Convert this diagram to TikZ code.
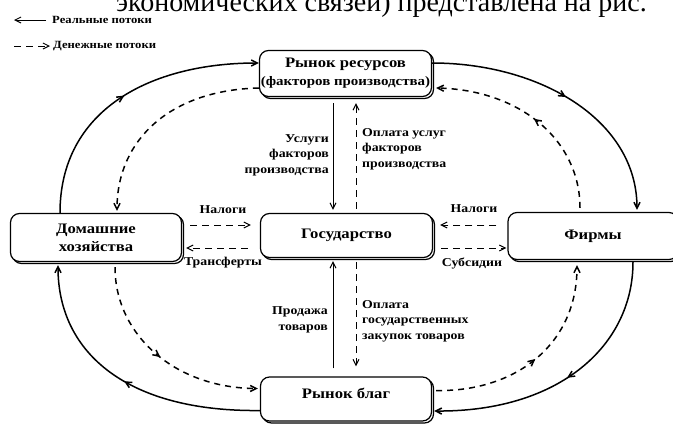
\documentclass[tikz,border=0pt]{standalone}
\usepackage{fontspec}
\setmainfont{Liberation Serif}
\newfontfamily\widefont[FakeStretch=1.15]{Liberation Serif}
\usetikzlibrary{arrows.meta,decorations.markings,shadows}
\begin{document}
\begin{tikzpicture}[x=1pt,y=-1pt,
  box/.style={draw, line width=1.2pt, rounded corners=9pt, fill=white, align=center,
    inner sep=0pt, copy shadow={shadow xshift=2pt, shadow yshift=-2pt},
    font=\widefont\bfseries\fontsize{14.5}{18}\selectfont},
  lbl/.style={inner sep=0pt, font=\widefont\bfseries\fontsize{12}{15.5}\selectfont},
  leg/.style={inner sep=0pt, font=\widefont\bfseries\fontsize{11}{14}\selectfont},
  tip/.style={-{Straight Barb[length=6pt,width=6pt]}},
  flow/.style={line width=1.5pt},
  money/.style={line width=1.5pt, dash pattern=on 6pt off 5pt},
  thinflow/.style={line width=1pt},
  thinmoney/.style={line width=1pt, dash pattern=on 7pt off 5pt},
  midarrow/.style={postaction={decorate}, decoration={markings,
    mark=at position #1 with {\arrow{Straight Barb[length=6pt,width=6pt]}}}},
  midarrow/.default=0.5
]
\useasboundingbox (0,0) rectangle (673,424);
\clip (0,0) rectangle (673,424);

% clipped running text at the top
\node[anchor=base east, inner sep=0pt, font=\fontsize{28}{30}\selectfont] (toptext) at (647,11.5)
  {экономических связей) представлена на рис.};

% legend
\coordinate (l1a) at (46,20);
\coordinate (l1b) at (14,20);
\draw[thinflow,tip] (l1a) -- (l1b);
\node[leg, anchor=west] (leg1) at (52,20) {Реальные потоки};
\coordinate (l2a) at (14,46);
\coordinate (l2b) at (50,46);
\draw[thinmoney,tip] (l2a) -- (l2b);
\node[leg, anchor=west] (leg2) at (53,46) {Денежные потоки};

% boxes
\node[box, minimum width=172pt, minimum height=46pt] (rr) at (345.5,73.5)
  {Рынок ресурсов\\{\fontsize{13}{17}\selectfont(факторов производства)}};
\node[box, minimum width=172pt, minimum height=44pt] (gov) at (346.5,235.5) {Государство};
\node[box, minimum width=171pt, minimum height=48pt] (hh) at (96,237.5) {Домашние\\хозяйства};
\node[box, minimum width=170pt, minimum height=47pt] (fi) at (593,236) {Фирмы};
\node[box, minimum width=171pt, minimum height=44pt] (rb) at (346,399) {};
\node[inner sep=0pt, font=\widefont\bfseries\fontsize{14.5}{18}\selectfont] (rbt) at (346,393) {Рынок благ};

% outer solid (real) flows
\draw[flow,tip,midarrow] ([xshift=-36pt]hh.north) .. controls (60,110) and (150,63) .. ([yshift=10.5pt]rr.west);
\draw[flow,tip,midarrow] ([yshift=10.5pt]rr.east) .. controls (540,63) and (637,120) .. ([xshift=44pt,yshift=2pt]fi.north);
\draw[flow,tip,midarrow] ([xshift=40pt,yshift=-2pt]fi.south) .. controls (633,345) and (560,412) .. ([xshift=2pt,yshift=-12pt]rb.east);
\draw[flow,tip,midarrow] ([yshift=-11.5pt]rb.west) .. controls (130,412) and (58,355) .. ([xshift=-38pt,yshift=-3pt]hh.south);

% outer dashed (money) flows
\draw[money,tip] ([yshift=-14.5pt]rr.west) .. controls (170,90) and (117,140) .. ([xshift=21pt,yshift=2pt]hh.north);
\draw[money,tip,midarrow] ([xshift=-13pt,yshift=4pt]fi.north) .. controls (580,140) and (520,90) .. ([xshift=4pt,yshift=-14.5pt]rr.east);
\draw[money,tip,midarrow] ([xshift=19pt,yshift=-5pt]hh.south) .. controls (115,335) and (175,388) .. ([xshift=-2pt,yshift=10.5pt]rb.west);
\draw[money,tip,midarrow] ([xshift=4pt,yshift=8.5pt]rb.east) .. controls (515,392) and (577,345) .. ([xshift=-16pt,yshift=-5pt]fi.south);

% vertical flows through the government
\coordinate (v1) at (333,0);
\coordinate (v2) at (356,0);
\draw[thinflow,tip,shorten <=6pt,shorten >=3pt] (rr.south -| v1) -- (gov.north -| v1);
\draw[thinmoney,tip,shorten <=4pt,shorten >=6pt] (gov.north -| v2) -- (rr.south -| v2);
\draw[thinflow,tip,shorten <=8pt,shorten >=3pt] (rb.north -| v1) -- (gov.south -| v1);
\draw[thinmoney,tip,shorten <=4pt,shorten >=10pt] (gov.south -| v2) -- (rb.north -| v2);

% horizontal money flows
\coordinate (h1) at (0,225);
\coordinate (h2) at (0,248);
\draw[thinmoney,tip,shorten <=8pt,shorten >=9pt] (hh.east |- h1) -- (gov.west |- h1);
\draw[thinmoney,tip,shorten <=12pt,shorten >=4pt] (gov.west |- h2) -- (hh.east |- h2);
\draw[thinmoney,tip,shorten <=11pt,shorten >=7pt] (fi.west |- h1) -- (gov.east |- h1);
\draw[thinmoney,tip,shorten <=8pt,shorten >=1pt] (gov.east |- h2) -- (fi.west |- h2);

% labels
\node[lbl, align=right, anchor=east] (t1) at (329,155) {Услуги\\факторов\\производства};
\node[lbl, align=left, anchor=west] (t2) at (362,149) {Оплата услуг\\факторов\\производства};
\node[lbl, align=right, anchor=east] (t3) at (328,320) {Продажа\\товаров};
\node[lbl, align=left, anchor=west] (t4) at (362,321) {Оплата\\государственных\\закупок товаров};
\node[lbl] (t5) at (223,210) {Налоги};
\node[lbl] (t6) at (223,263) {Трансферты};
\node[lbl] (t7) at (474,209) {Налоги};
\node[lbl] (t8) at (472,263) {Субсидии};
\end{tikzpicture}
\end{document}
